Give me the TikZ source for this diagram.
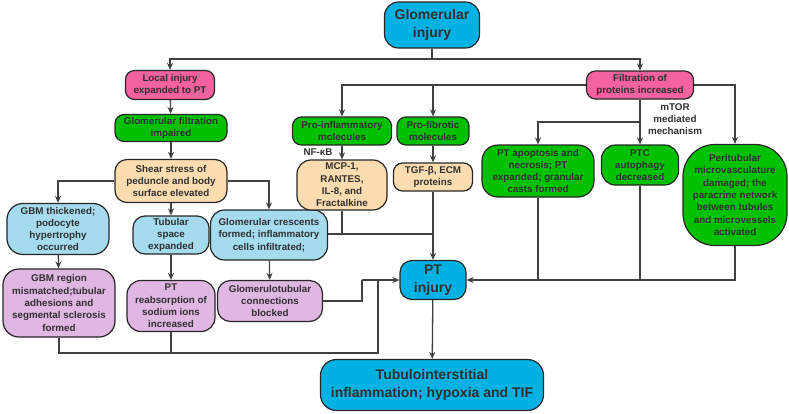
\documentclass[tikz,border=0pt]{standalone}
\usepackage{fontspec}
\setmainfont{Liberation Sans}
\usetikzlibrary{arrows.meta}
\definecolor{cyanbox}{HTML}{00B2E3}
\definecolor{pinkbox}{HTML}{F4629F}
\definecolor{greenbox}{HTML}{00C000}
\definecolor{peachbox}{HTML}{FDDDB0}
\definecolor{lbluebox}{HTML}{A5DBEF}
\definecolor{lavbox}{HTML}{E0B6E2}
\definecolor{linecol}{HTML}{404040}
\definecolor{txtcol}{HTML}{303030}
\tikzset{
  box/.style={draw=black!85, line width=1.2pt, rounded corners=9pt, align=center, inner sep=0pt,
    text=txtcol, font=\bfseries\fontsize{9.8}{12.3}\selectfont},
  bigbox/.style={box, fill=cyanbox, font=\bfseries\fontsize{14}{18}\selectfont},
  conn/.style={draw=linecol, line width=1.3pt},
  arr/.style={conn, -{Stealth[length=7pt,width=6pt]}},
  lbl/.style={text=txtcol, font=\bfseries\fontsize{9.8}{12}\selectfont, align=center, inner sep=0pt}
}
\begin{document}
\begin{tikzpicture}[x=1pt,y=-1pt]
\useasboundingbox (0,0) rectangle (789,413);
% nodes
\node[bigbox, minimum width=95pt, minimum height=46pt, rounded corners=14pt] (gi) at (432,25) {Glomerular\\injury};
\node[box, fill=pinkbox, minimum width=89pt, minimum height=29pt] (local) at (170,85) {Local injury\\expanded to PT};
\node[box, fill=greenbox, minimum width=112pt, minimum height=27pt] (gfi) at (171,128) {Glomerular filtration\\impaired};
\node[box, fill=peachbox, minimum width=112pt, minimum height=43pt, rounded corners=12pt] (shear) at (171,181) {Shear stress of\\peduncle and body\\surface elevated};
\node[box, fill=lbluebox, minimum width=102pt, minimum height=51pt, rounded corners=16pt] (gbmt) at (58,229) {GBM thickened;\\podocyte\\hypertrophy\\occurred};
\node[box, fill=lbluebox, minimum width=76pt, minimum height=38pt, rounded corners=12pt] (tubs) at (171,235) {Tubular\\space\\expanded};
\node[box, fill=lbluebox, minimum width=117pt, minimum height=50pt, rounded corners=14pt] (cresc) at (269,235) {Glomerular crescents\\formed; inflammatory\\cells infiltrated;};
\node[box, fill=lavbox, minimum width=112pt, minimum height=68pt, rounded corners=16pt] (gbmr) at (59,303) {GBM region\\mismatched;tubular\\adhesions and\\segmental sclerosis\\formed};
\node[box, fill=lavbox, minimum width=88pt, minimum height=51pt, rounded corners=14pt] (ptre) at (171,306) {PT\\reabsorption of\\sodium ions\\increased};
\node[box, fill=lavbox, minimum width=105pt, minimum height=41pt, rounded corners=13pt] (glomt) at (270,301) {Glomerulotubular\\connections\\blocked};
\node[box, fill=greenbox, minimum width=99pt, minimum height=28pt] (proinf) at (342,131) {Pro-inflammatory\\molecules};
\node[box, fill=greenbox, minimum width=72pt, minimum height=28pt] (profib) at (433,131) {Pro-fibrotic\\molecules};
\node[box, fill=peachbox, minimum width=90pt, minimum height=50pt, rounded corners=14pt] (mcp) at (342,185) {MCP-1,\\RANTES,\\IL-8, and\\Fractalkine};
\node[box, fill=peachbox, minimum width=79pt, minimum height=28pt] (tgf) at (433,177) {TGF-β, ECM\\proteins};
\node[box, fill=pinkbox, minimum width=107pt, minimum height=28pt] (filt) at (640,85) {Filtration of\\proteins increased};
\node[box, fill=greenbox, minimum width=112pt, minimum height=52pt, rounded corners=16pt] (ptap) at (538,171) {PT apoptosis and\\necrosis; PT\\expanded; granular\\casts formed};
\node[box, fill=greenbox, minimum width=77pt, minimum height=40pt, rounded corners=14pt] (ptc) at (640,165) {PTC\\autophagy\\decreased};
\node[box, fill=greenbox, minimum width=104pt, minimum height=101pt, rounded corners=32pt] (peri) at (735,195) {Peritubular\\microvasculature\\damaged; the\\paracrine network\\between tubules\\and microvessels\\activated};
\node[bigbox, minimum width=66pt, minimum height=39pt, rounded corners=12pt] (pti) at (433,280) {PT\\injury};
\node[bigbox, minimum width=223pt, minimum height=51pt, rounded corners=16pt] (tub) at (432,385) {Tubulointerstitial\\inflammation; hypoxia and TIF};
\node[lbl] (nfkb) at (318,152) {NF-κB};
\node[lbl] (mtor) at (675,119) {mTOR\\mediated\\mechanism};
% coordinates
\coordinate (j1) at (432,59);
\coordinate (m1) at (433,234);
\coordinate (f1) at (640,122);
\coordinate (b1) at (378,353);
\coordinate (b2) at (378,280);
\coordinate (g1) at (362,280);
% connectors
\draw[conn] (gi.south) -- (j1);
\draw[arr] (j1) -| (local.north);
\draw[arr] (j1) -| (filt.north);
\draw[arr] (local) -- (gfi);
\draw[arr] (gfi) -- (shear);
\draw[arr] (shear.west) -| (gbmt.north);
\draw[arr] (shear.east) -| (cresc.north);
\draw[arr] (shear) -- (tubs);
\draw[arr] (gbmt) -- (gbmr);
\draw[arr] (tubs) -- (ptre);
\draw[arr] (cresc) -- (glomt);
\draw[conn] (glomt.east) -| (g1);
\draw[arr] (g1) -- (pti.west);
\draw[conn] (gbmr.south) |- (b1) -- (b2);
\draw[conn] (ptre.south) -- (ptre.south |- b1);
\draw[arr] (filt.west) -| (proinf.north);
\draw[arr] (profib.north |- filt.west) -- (profib.north);
\draw[arr] (proinf) -- (mcp);
\draw[arr] (profib) -- (tgf);
\draw[conn] (mcp.south) |- (m1);
\draw[conn] (cresc.east |- m1) -- (m1);
\draw[arr] (tgf.south) -- (pti.north);
\draw[conn] (filt.south) -- (f1);
\draw[arr] (f1) -| (ptap.north);
\draw[arr] (f1) -- (ptc.north);
\draw[arr] (filt.east) -| (peri.north);
\draw[conn] (ptap.south) -- (ptap.south |- pti.east);
\draw[conn] (ptc.south) -- (ptc.south |- pti.east);
\draw[arr] (peri.south) |- (pti.east);
\draw[arr] (pti) -- (tub);
\end{tikzpicture}
\end{document}
